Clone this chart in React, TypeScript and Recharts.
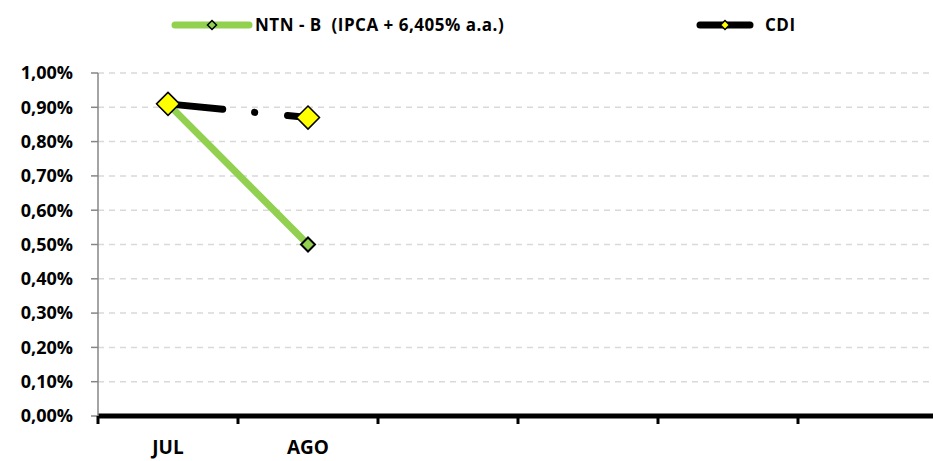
import React from "react";
import { CartesianGrid, Line, LineChart, XAxis, YAxis } from "recharts";

const months = ["JUL", "AGO", "", "", "", ""];
const ntnbValues = [0.91, 0.5, null, null, null, null];
const cdiValues = [0.91, 0.87, null, null, null, null];
const yTicks = [0, 0.1, 0.2, 0.3, 0.4, 0.5, 0.6, 0.7, 0.8, 0.9, 1.0];
const ntnbLabel = "NTN - B  (IPCA + 6,405% a.a.)";
const cdiLabel = "CDI";

const FONT = "'Open Sans', sans-serif";
const GREEN = "#92D050";

const CHART_W = 940;
const M = { top: 73, right: 2, bottom: 45, left: 98 };
const HALF_BAND = (CHART_W - M.left - M.right) / months.length / 2;

const data = months.map((month, i) => ({ month, ntnb: ntnbValues[i], cdi: cdiValues[i] }));

const fmtPct = (v: number) => v.toFixed(2).replace(".", ",") + "%";

function diamondDot(r: number, fill: string, strokeWidth: number) {
  return (props: any) => {
    const { cx, cy, index, value } = props;
    if (value == null || cx == null || cy == null) return <g key={`e-${index}`} />;
    return (
      <polygon
        key={`d-${index}`}
        points={`${cx},${cy - r} ${cx + r},${cy} ${cx},${cy + r} ${cx - r},${cy}`}
        fill={fill}
        stroke="#000"
        strokeWidth={strokeWidth}
      />
    );
  };
}

// category label in the middle, tick mark on the left band edge
function MonthTick(props: any) {
  const { x, y, payload } = props;
  return (
    <g>
      <line x1={x - HALF_BAND} x2={x - HALF_BAND} y1={y} y2={y + 8} stroke="#000" strokeWidth={3} />
      <text
        x={x}
        y={y + 38}
        textAnchor="middle"
        fontFamily={FONT}
        fontWeight={700}
        fontSize={19}
        fill="#000"
      >
        {payload.value}
      </text>
    </g>
  );
}

function LegendSwatch({ width, color, markerFill, markerR }: { width: number; color: string; markerFill: string; markerR: number }) {
  const mid = width / 2;
  return (
    <svg width={width} height={14} style={{ display: "block" }}>
      <line x1={4} y1={7} x2={width - 4} y2={7} stroke={color} strokeWidth={7} strokeLinecap="round" />
      <polygon
        points={`${mid},${7 - markerR} ${mid + markerR},7 ${mid},${7 + markerR} ${mid - markerR},7`}
        fill={markerFill}
        stroke="#000"
        strokeWidth={1.5}
      />
    </svg>
  );
}

export default function App() {
  return (
    <div style={{ position: "absolute", left: 0, top: 0, width: 933, height: 461, overflow: "hidden", background: "#fff" }}>
      <div
        style={{
          position: "absolute",
          top: 13,
          left: 0,
          width: 933,
          height: 20,
          fontFamily: FONT,
          fontWeight: 700,
          fontSize: 17,
          letterSpacing: 0.5,
          color: "#000",
          whiteSpace: "pre",
        }}
      >
        <div style={{ position: "absolute", left: 171, top: 0, display: "flex", alignItems: "center" }}>
          <LegendSwatch width={82} color={GREEN} markerFill={GREEN} markerR={4.5} />
          <span style={{ marginLeft: 2 }}>{ntnbLabel}</span>
        </div>
        <div style={{ position: "absolute", left: 696, top: 0, display: "flex", alignItems: "center" }}>
          <LegendSwatch width={58} color="#000" markerFill="#FFFF00" markerR={4.5} />
          <span style={{ marginLeft: 11 }}>{cdiLabel}</span>
        </div>
      </div>
      <LineChart width={CHART_W} height={461} data={data} margin={{ top: M.top, right: M.right, bottom: 0, left: 0 }}>
        <CartesianGrid vertical={false} stroke="#D9D9D9" strokeWidth={1.5} strokeDasharray="6 5" />
        <XAxis
          dataKey="month"
          height={M.bottom}
          padding={{ left: HALF_BAND, right: HALF_BAND }}
          axisLine={{ stroke: "#000", strokeWidth: 5 }}
          tickLine={false}
          tickSize={0}
          tickMargin={0}
          interval={0}
          tick={<MonthTick />}
        />
        <YAxis
          width={M.left}
          domain={[0, 1]}
          ticks={yTicks}
          tickFormatter={fmtPct}
          axisLine={{ stroke: "#868686", strokeWidth: 1.5 }}
          tickLine={{ stroke: "#868686", strokeWidth: 1.5 }}
          tickSize={7}
          tickMargin={18}
          tick={{ fontFamily: FONT, fontWeight: 700, fontSize: 18, fill: "#000" }}
        />
        <Line
          dataKey="ntnb"
          stroke={GREEN}
          strokeWidth={7}
          strokeLinecap="round"
          dot={diamondDot(7, GREEN, 2)}
          activeDot={false}
          isAnimationActive={false}
        />
        <Line
          dataKey="cdi"
          stroke="#000"
          strokeWidth={7}
          strokeLinecap="round"
          strokeDasharray="55 32 0.1 33"
          dot={diamondDot(11.5, "#FFFF00", 1.5)}
          activeDot={false}
          isAnimationActive={false}
        />
      </LineChart>
    </div>
  );
}
